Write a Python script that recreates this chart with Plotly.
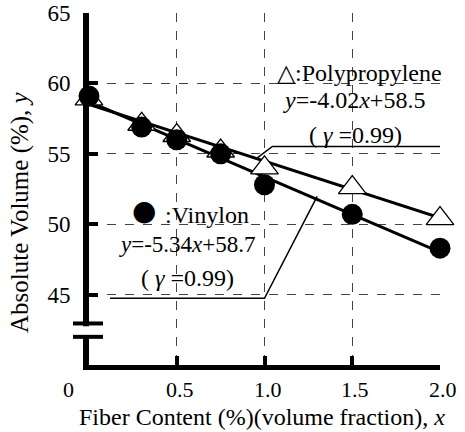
import plotly.graph_objects as go
import numpy as np

# Data
fiber_x = [0, 0.3, 0.5, 0.75, 1.0, 1.5, 2.0]
vinylon_y = [59.1, 56.9, 56.0, 55.0, 52.8, 50.7, 48.3]
polyprop_y = [58.9, 57.1, 56.3, 55.2, 54.0, 52.6, 50.4]
vinylon_fit = (-5.34, 58.7)
polyprop_fit = (-4.02, 58.5)
x_ticks = [0.5, 1.0, 1.5, 2.0]
x_ticklabels = ["0.5", "1.0", "1.5", "2.0"]
y_ticks = [45, 50, 55, 60, 65]

FONT = "Liberation Serif, Times New Roman, serif"
fx = np.array([0.0, 2.0])

fig = go.Figure()
fig.add_trace(go.Scatter(x=fx, y=polyprop_fit[0]*fx + polyprop_fit[1], mode="lines",
                         line=dict(color="black", width=3), cliponaxis=False, showlegend=False))
fig.add_trace(go.Scatter(x=fx, y=vinylon_fit[0]*fx + vinylon_fit[1], mode="lines",
                         line=dict(color="black", width=3), cliponaxis=False, showlegend=False))
fig.add_trace(go.Scatter(x=fiber_x, y=polyprop_y, mode="markers",
                         marker=dict(symbol="triangle-up", size=24, color="white",
                                     line=dict(color="black", width=1.3)),
                         cliponaxis=False, showlegend=False))
fig.add_trace(go.Scatter(x=fiber_x, y=vinylon_y, mode="markers",
                         marker=dict(symbol="circle", size=21, color="black"),
                         cliponaxis=False, showlegend=False))

# leader lines
fig.add_trace(go.Scatter(x=[0.955, 1.045, 2.034], y=[54.67, 55.52, 55.52], mode="lines",
                         line=dict(color="black", width=1.5), cliponaxis=False, showlegend=False))
fig.add_trace(go.Scatter(x=[0.12, 1.0, 1.30], y=[44.74, 44.74, 51.98], mode="lines",
                         line=dict(color="black", width=1.5), cliponaxis=False, showlegend=False))

tf = dict(family=FONT, size=24, color="black")
ann = [
    dict(x=1.54, y=60.73, text="△:Polypropylene", size=24),
    dict(x=1.51, y=58.81, text="<i>y</i>=-4.02<i>x</i>+58.5", size=24),
    dict(x=1.52, y=56.32, text="( <i>γ</i> =0.99)", size=24),
    dict(x=0.67, y=50.64, text=":Vinylon", size=24),
    dict(x=0.56, y=48.55, text="<i>y</i>=-5.34<i>x</i>+58.7", size=23),
    dict(x=0.56, y=46.16, text="( <i>γ</i> =0.99)", size=24),
]
for a in ann:
    fig.add_annotation(xref="x", yref="y", x=a["x"], y=a["y"], text=a["text"],
                       showarrow=False, xanchor="center", yanchor="middle",
                       font=dict(family=FONT, size=a["size"], color="black"))
fig.add_annotation(xref="x", yref="y", x=0.3125, y=50.95, text="●", showarrow=False,
                   xanchor="center", yanchor="middle",
                   font=dict(family="DejaVu Sans", size=28, color="black"))

# x tick labels (placed below the inside ticks)
for xv, lab in zip(x_ticks, x_ticklabels):
    fig.add_annotation(xref="x", yref="paper", x=xv, y=(365-389)/352, text=lab,
                       xanchor="center", yanchor="middle", showarrow=False, xshift=3,
                       font=dict(family=FONT, size=22, color="black"))
# "0" tick label (offset left in original)
fig.add_annotation(xref="paper", yref="paper", x=(68-89)/351, y=(365-389)/352,
                   xanchor="center", yanchor="middle",
                   text="0", showarrow=False, font=dict(family=FONT, size=22, color="black"))

# axis titles
fig.add_annotation(xref="paper", yref="paper", x=(20-89)/351, y=(365-212)/352,
                   xanchor="center", yanchor="middle",
                   text="Absolute Volume (%), <i>y</i>", textangle=-90, showarrow=False,
                   font=dict(family=FONT, size=25, color="black"))
fig.add_annotation(xref="paper", yref="paper", x=(262-89)/351, y=(365-417)/352,
                   xanchor="center", yanchor="middle",
                   text="Fiber Content (%)(volume fraction), <i>x</i>", showarrow=False,
                   font=dict(family=FONT, size=24, color="black"))

# axis break
fig.add_shape(type="rect", xref="paper", yref="y", x0=-0.03, x1=0.03, y0=42.1, y1=42.75,
              fillcolor="white", line=dict(width=0), layer="above")
for yb in [42.95, 42.0]:
    fig.add_shape(type="line", xref="paper", yref="y", x0=(73-89)/351, x1=(103-89)/351,
                  y0=yb, y1=yb, line=dict(color="black", width=4), layer="above")

fig.update_xaxes(range=[0, 2.0], tickvals=x_ticks, showticklabels=False,
                 showline=True, linecolor="black", linewidth=5, automargin=False,
                 ticks="inside", ticklen=9, tickwidth=4, tickcolor="black",
                 showgrid=True, gridcolor="#444", griddash="dash", gridwidth=1,
                 zeroline=False)
fig.update_yaxes(range=[40, 65], tickvals=y_ticks,
                 showline=True, linecolor="black", linewidth=6, automargin=False,
                 ticks="inside", ticklen=9, tickwidth=4, tickcolor="black",
                 ticklabelstandoff=8,
                 showgrid=True, gridcolor="#444", griddash="dash", gridwidth=1,
                 zeroline=False, tickfont=dict(family=FONT, size=23, color="black"))
fig.update_layout(width=465, height=432, margin=dict(l=89, r=25, t=13, b=67, autoexpand=False),
                  plot_bgcolor="white", paper_bgcolor="white",
                  font=dict(family=FONT))
fig.write_html("out.html")
